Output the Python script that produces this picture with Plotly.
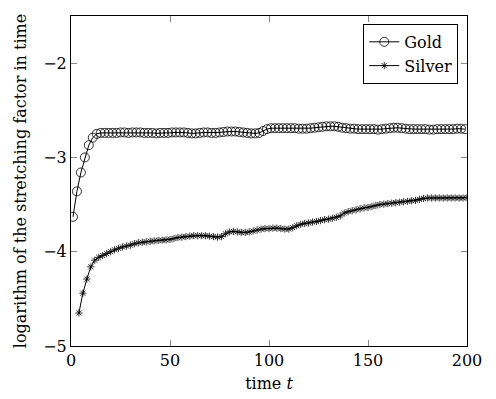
import plotly.graph_objects as go

# time steps (every second frame)
gold_t = list(range(1, 200, 2))
silver_t = list(range(4, 201, 2))

gold = [-3.63, -3.36, -3.16, -3.00, -2.87, -2.79, -2.75, -2.74, -2.74, -2.74,
        -2.74, -2.74, -2.735, -2.735, -2.74, -2.735, -2.735, -2.735, -2.74, -2.74,
        -2.74, -2.745, -2.74, -2.74, -2.74, -2.735, -2.735, -2.735, -2.735, -2.74,
        -2.745, -2.745, -2.74, -2.735, -2.735, -2.74, -2.74, -2.735, -2.73, -2.725,
        -2.725, -2.725, -2.73, -2.735, -2.74, -2.745, -2.745, -2.74, -2.72, -2.70,
        -2.69, -2.69, -2.69, -2.69, -2.69, -2.69, -2.69, -2.695, -2.695, -2.695,
        -2.69, -2.685, -2.68, -2.675, -2.67, -2.67, -2.67, -2.675, -2.685, -2.69,
        -2.695, -2.695, -2.70, -2.70, -2.70, -2.70, -2.70, -2.705, -2.70, -2.695,
        -2.69, -2.685, -2.685, -2.69, -2.695, -2.70, -2.70, -2.70, -2.70, -2.70,
        -2.705, -2.705, -2.70, -2.70, -2.70, -2.70, -2.70, -2.695, -2.695, -2.70]

silver = [-4.65, -4.44, -4.29, -4.16, -4.09, -4.06, -4.04, -4.02, -4.00, -3.98,
          -3.965, -3.95, -3.94, -3.93, -3.915, -3.905, -3.90, -3.895, -3.89, -3.885,
          -3.88, -3.878, -3.875, -3.87, -3.86, -3.85, -3.845, -3.84, -3.835, -3.83,
          -3.83, -3.83, -3.83, -3.835, -3.84, -3.845, -3.84, -3.81, -3.79, -3.785,
          -3.79, -3.795, -3.795, -3.79, -3.78, -3.77, -3.76, -3.755, -3.755, -3.75,
          -3.75, -3.755, -3.76, -3.76, -3.745, -3.725, -3.71, -3.70, -3.695,
          -3.685, -3.68, -3.67, -3.66, -3.655, -3.645, -3.635, -3.62, -3.59, -3.575,
          -3.565, -3.555, -3.545, -3.535, -3.53, -3.52, -3.51, -3.50, -3.495, -3.49,
          -3.485, -3.48, -3.475, -3.47, -3.465, -3.46, -3.455, -3.445, -3.435, -3.43,
          -3.43, -3.43, -3.43, -3.43, -3.43, -3.43, -3.43, -3.43, -3.43, -3.425]

fig = go.Figure()
fig.add_trace(go.Scatter(x=gold_t, y=gold, mode="lines+markers", name="Gold",
                         line=dict(color="black", width=1),
                         marker=dict(symbol="circle-open", size=9, color="black",
                                     line=dict(width=0.8))))
fig.add_trace(go.Scatter(x=silver_t, y=silver, mode="lines+markers", name="Silver",
                         line=dict(color="black", width=1),
                         marker=dict(symbol="asterisk-open", size=6, color="black",
                                     line=dict(width=0.8))))

axis_style = dict(showgrid=False, zeroline=False, showline=True, linecolor="black",
                  linewidth=1, mirror="ticks", ticks="inside", ticklen=6,
                  tickcolor="#888888", tickfont=dict(size=16))

fig.update_xaxes(range=[0, 200], tickvals=[0, 50, 100, 150, 200],
                 title=dict(text="time <i>t</i>", font=dict(size=16), standoff=8),
                 **axis_style)
fig.update_yaxes(range=[-5, -1.5], tickvals=[-5, -4, -3, -2],
                 title=dict(text="logarithm of the stretching factor in time",
                            font=dict(size=16), standoff=12),
                 **axis_style)

# page body has an 8px margin, so the margins are shifted by that
fig.update_layout(
    width=496, height=399,
    margin=dict(l=63, r=37, t=8, b=61),
    paper_bgcolor="white", plot_bgcolor="white",
    font=dict(family="DejaVu Serif", color="black", size=16),
    legend=dict(x=0.978, y=0.976, xanchor="right", yanchor="top",
                bordercolor="black", borderwidth=1, bgcolor="white",
                font=dict(size=16), tracegroupgap=0),
    showlegend=True,
)

fig.write_html("out.html")
